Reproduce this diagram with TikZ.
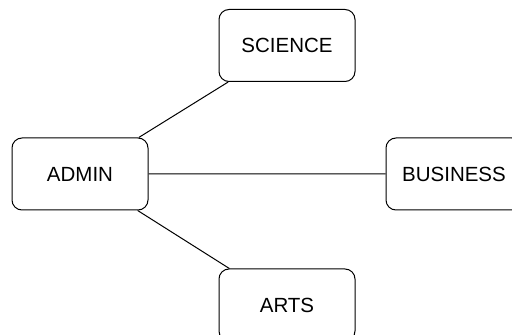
\documentclass[tikz,border=0pt]{standalone}
\usepackage{fontspec}
\setmainfont{Liberation Sans}
\usetikzlibrary{positioning}

\begin{document}
\begin{tikzpicture}[
  x=1pt, y=1pt,
  node distance=10pt,
  on grid,
  dept/.style={
    draw,
    rectangle,
    rounded corners=10pt,
    line width=1pt,
    minimum width=136pt,
    minimum height=72pt,
    font=\fontsize{20.5}{24}\selectfont
  }
]
\useasboundingbox (0,0) rectangle (512,335);
\node[dept] (admin) at (80,161) {ADMIN};
\node[dept] (science) [above right=128.5pt and 207pt of admin] {SCIENCE};
\node[dept] (business) [right=374pt of admin] {BUSINESS};
\node[dept] (arts) [below right=131pt and 207pt of admin] {ARTS};
\draw[line width=1pt] (admin) -- (science)
      (admin) -- (business)
      (admin) -- (arts);
\end{tikzpicture}
\end{document}
